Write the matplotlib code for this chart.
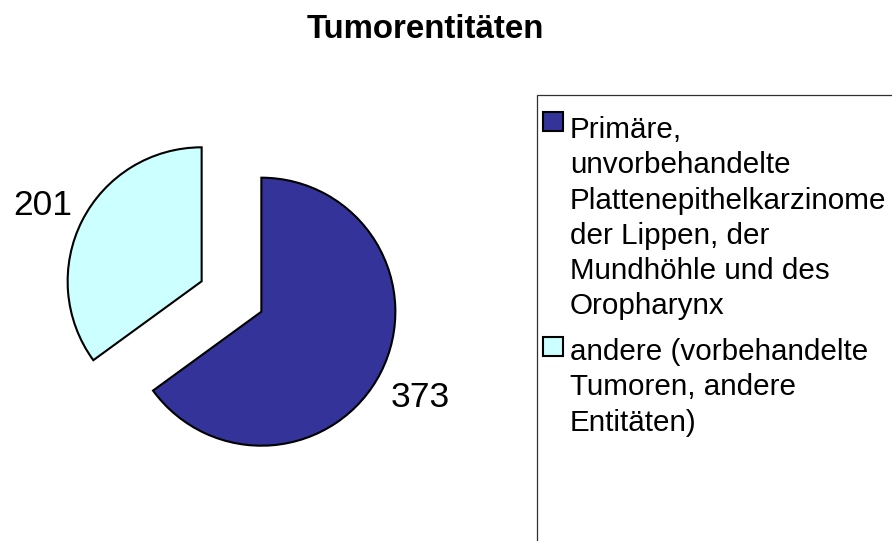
import numpy as np
import matplotlib.pyplot as plt
from matplotlib.patches import Rectangle

plt.rcParams['font.family'] = ['Liberation Sans', 'DejaVu Sans']

# data
title = 'Tumorentitäten'
counts = [373, 201]
labels = ['Primäre,\nunvorbehandelte\nPlattenepithelkarzinome\nder Lippen, der\nMundhöhle und des\nOropharynx',
          'andere (vorbehandelte\nTumoren, andere\nEntitäten)']
colors = ['#333399', '#CCFFFF']

W, H = 892, 541
R = 134.0          # pie radius in px
cx, cy = 231.5, 296.5   # pie centre (image px)
lim = 1.7

fig = plt.figure(figsize=(W / 100, H / 100), dpi=100)

# pie axes, one data unit = R pixels
side = 2 * lim * R
pax = fig.add_axes([(cx - lim * R) / W, (H - cy - lim * R) / H, side / W, side / H])
wedges, texts = pax.pie(counts, labels=[str(c) for c in counts], colors=colors,
                        startangle=90, counterclock=False, explode=[0.25, 0.25],
                        labeldistance=1.33,
                        wedgeprops=dict(edgecolor='black', linewidth=1.5),
                        textprops=dict(fontsize=25.5, color='black'))
for t in texts:
   t.set_horizontalalignment('center')
   x, y = t.get_position()
   t.set_position((x, y - 0.04))
pax.set_xlim(-lim, lim)
pax.set_ylim(-lim, lim)
pax.axis('off')

# overlay in pixel coords for title and legend
ax = fig.add_axes([0, 0, 1, 1])
ax.set_xlim(0, W)
ax.set_ylim(H, 0)
ax.axis('off')

ax.text(425, 38, title, fontsize=23.8, fontweight='bold', ha='center', va='baseline')

# legend box (runs off the right and bottom edges)
ax.add_patch(Rectangle((537, 95), 400, 500, facecolor='white', edgecolor='#303030',
                       linewidth=0.9, zorder=1))
tops = [116, 338]
marker_tops = [112, 337]
for lab, col, yt, ym in zip(labels, colors, tops, marker_tops):
   ax.add_patch(Rectangle((543, ym), 20, 19, facecolor=col, edgecolor='black',
                          linewidth=1.5, zorder=2))
   ax.text(570, yt, lab, fontsize=21.3, ha='left', va='top', linespacing=1.33, zorder=3)

fig.savefig('out.png', dpi=100)
